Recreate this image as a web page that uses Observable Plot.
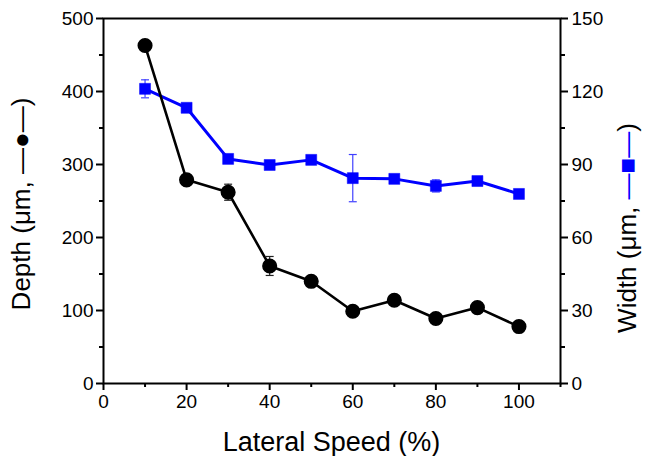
<!DOCTYPE html>
<html>
<head>
<meta charset="utf-8">
<script src="https://cdn.jsdelivr.net/npm/d3@7"></script>
<script src="https://cdn.jsdelivr.net/npm/@observablehq/plot@0.6"></script>
<style>
  html, body { margin: 0; padding: 0; background: #fff; }
  #chart svg { display: block; }
</style>
</head>
<body>
<div id="chart"></div>
<script>
// ---- data ----
const speed      = [10, 20, 30, 40, 50, 60, 70, 80, 90, 100];
const depth      = [463, 279, 262, 161, 140, 99, 114, 89, 104, 78];
const depthErr   = [0, 0, 11, 13, 0, 0, 0, 0, 0, 0];
const widthVals  = [121.1, 113.3, 92.3, 89.8, 91.9, 84.4, 84.1, 81.2, 83.2, 77.9];
const widthErr   = [3.7, 0, 0, 0, 0, 9.7, 0, 2.5, 0, 0];

const xMajor = [0, 20, 40, 60, 80, 100];
const xMinor = [10, 30, 50, 70, 90, 110];
const yLeftMajor = [0, 100, 200, 300, 400, 500];
const yLeftMinor = [50, 150, 250, 350, 450];
const yRightMajor = [0, 30, 60, 90, 120, 150];
const yRightMinor = [15, 45, 75, 105, 135];

const xTitle = "Lateral Speed (%)";
const leftTitle = ["Depth (μm, ", "—●—", ")"];
const rightTitle = ["Width (μm, ", "—■—", ")"];

// right axis (0–150) mapped onto left scale (0–500)
const k = 500 / 150;

const D = speed.map((s, i) => ({x: s, y: depth[i], e: depthErr[i]}));
const W = speed.map((s, i) => ({x: s, y: widthVals[i] * k, e: widthErr[i] * k}));
const Derr = D.filter(d => d.e > 0);
const Werr = W.filter(d => d.e > 0);

const capSymbol = {
  draw(ctx, size) {
    const r = Math.sqrt(size) / 2;
    ctx.moveTo(-r, 0);
    ctx.lineTo(r, 0);
  }
};

const blue = "#0000ff";

const plot = Plot.plot({
  width: 647,
  height: 456,
  marginLeft: 103,
  marginRight: 87,
  marginTop: 18,
  marginBottom: 73,
  style: {fontFamily: "'Liberation Sans', Arial, sans-serif", fontSize: "19px", color: "#000", background: "#fff"},
  x: {domain: [0, 110]},
  y: {domain: [0, 500]},
  marks: [
    // axes
    Plot.axisX({ticks: xMajor, tickSize: 7, tickPadding: 4, tickFormat: d => d, label: null, strokeWidth: 2}),
    Plot.axisX({ticks: xMinor, tickSize: 4, text: null, label: null, strokeWidth: 2}),
    Plot.axisY({ticks: yLeftMajor, tickSize: 7, tickPadding: 3, tickFormat: d => d, label: null, strokeWidth: 2}),
    Plot.axisY({ticks: yLeftMinor, tickSize: 4, text: null, label: null, strokeWidth: 2}),
    Plot.axisY({anchor: "right", ticks: yRightMajor.map(v => v * k), tickSize: 7, tickPadding: 4,
                tickFormat: d => Math.round(d / k), label: null, strokeWidth: 2}),
    Plot.axisY({anchor: "right", ticks: yRightMinor.map(v => v * k), tickSize: 4, text: null, label: null, strokeWidth: 2}),
    Plot.frame({stroke: "#000", strokeWidth: 2}),

    // width series (blue)
    Plot.line(W, {x: "x", y: "y", stroke: blue, strokeWidth: 3}),
    Plot.ruleX(Werr, {x: "x", y1: d => d.y - d.e, y2: d => d.y + d.e, stroke: "#4040ff", strokeWidth: 1.2}),
    Plot.dot(Werr, {x: "x", y: d => d.y - d.e, symbol: capSymbol, r: 4.5, stroke: "#4040ff", strokeWidth: 1.2}),
    Plot.dot(Werr, {x: "x", y: d => d.y + d.e, symbol: capSymbol, r: 4.5, stroke: "#4040ff", strokeWidth: 1.2}),
    Plot.dot(W, {x: "x", y: "y", symbol: "square", r: 6.2, fill: blue, stroke: blue, strokeWidth: 0.5}),

    // depth series (black)
    Plot.line(D, {x: "x", y: "y", stroke: "#000", strokeWidth: 2.6}),
    Plot.ruleX(Derr, {x: "x", y1: d => d.y - d.e, y2: d => d.y + d.e, stroke: "#222", strokeWidth: 1.2}),
    Plot.dot(Derr, {x: "x", y: d => d.y - d.e, symbol: capSymbol, r: 4.5, stroke: "#222", strokeWidth: 1.2}),
    Plot.dot(Derr, {x: "x", y: d => d.y + d.e, symbol: capSymbol, r: 4.5, stroke: "#222", strokeWidth: 1.2}),
    Plot.dot(D, {x: "x", y: "y", r: 6.8, fill: "#000", stroke: "#000"})
  ]
});

document.getElementById("chart").appendChild(plot);

// axis titles as real text
const svg = d3.select(plot);
const font = "'Liberation Sans', Arial, sans-serif";

svg.append("text")
  .attr("x", (103 + 560) / 2)
  .attr("y", 451)
  .attr("text-anchor", "middle")
  .attr("font-family", font)
  .attr("font-size", 27)
  .attr("fill", "#000")
  .text(xTitle);

const lt = svg.append("text")
  .attr("transform", "translate(30,204) rotate(-90)")
  .attr("text-anchor", "middle")
  .attr("font-family", font)
  .attr("font-size", 26)
  .attr("fill", "#000");
lt.append("tspan").text(leftTitle[0]);
lt.append("tspan").attr("fill", "#000").text(leftTitle[1]);
lt.append("tspan").text(leftTitle[2]);

const rt = svg.append("text")
  .attr("transform", "translate(636,228) rotate(-90)")
  .attr("text-anchor", "middle")
  .attr("font-family", font)
  .attr("font-size", 26)
  .attr("fill", "#000");
rt.append("tspan").text(rightTitle[0]);
rt.append("tspan").attr("fill", blue).text(rightTitle[1]);
rt.append("tspan").text(rightTitle[2]);
</script>
</body>
</html>
